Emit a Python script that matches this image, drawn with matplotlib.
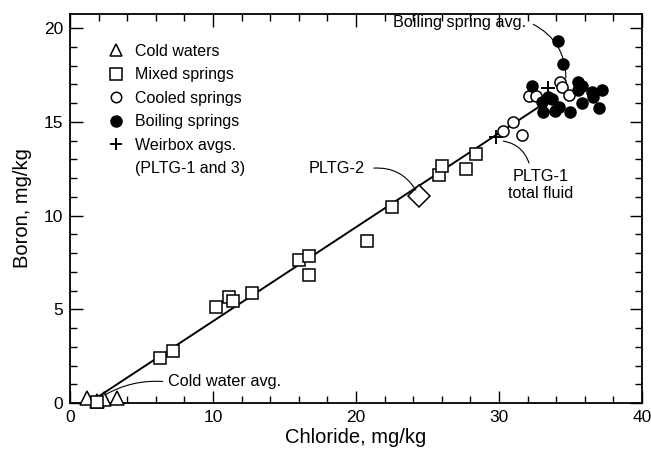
import matplotlib
matplotlib.use("Agg")
import matplotlib.pyplot as plt
from matplotlib.lines import Line2D
from matplotlib.ticker import MultipleLocator

plt.rcParams['font.family'] = ['Liberation Sans', 'DejaVu Sans']

# chloride (x) and boron (y), mg/kg
cold_cl = [1.2, 1.9, 2.4, 3.3]
cold_b = [0.25, 0.1, 0.2, 0.25]

mixed_cl = [1.9, 6.3, 7.2, 10.2, 11.1, 11.4, 12.7, 16.0, 16.7, 16.7,
            20.8, 22.5, 25.8, 26.0, 27.7, 28.4]
mixed_b = [0.05, 2.4, 2.8, 5.1, 5.67, 5.44, 5.87, 7.63, 7.84, 6.83,
           8.64, 10.45, 12.16, 12.64, 12.48, 13.28]

cooled_cl = [30.3, 31.0, 31.6, 32.1, 32.6, 34.3, 34.4, 34.9]
cooled_b = [14.5, 15.0, 14.3, 16.4, 16.4, 17.1, 16.85, 16.45]

boiling_cl = [34.1, 34.5, 32.3, 33.0, 33.1, 33.4, 33.7, 34.2, 33.9, 35.0,
              35.5, 35.8, 35.5, 35.8, 36.5, 36.6, 37.2, 37.0]
boiling_b = [19.3, 18.1, 16.9, 16.05, 15.5, 16.3, 16.2, 15.8, 15.6, 15.5,
             17.1, 16.9, 16.7, 16.0, 16.6, 16.3, 16.7, 15.75]

weirbox_cl = [29.8, 33.4]
weirbox_b = [14.2, 16.8]

pltg2_cl = [24.4]
pltg2_b = [11.05]

line_cl = [1.9, 33.6]
line_b = [0.3, 16.2]

fig = plt.figure(figsize=(6.51, 4.49), dpi=100)
ax = fig.add_axes([0.1075, 0.1024, 0.8786, 0.8664])

ax.plot(line_cl, line_b, color='black', lw=1.4, zorder=2)

mk = dict(linestyle='none', color='black', clip_on=False, zorder=3)
ax.plot(cold_cl, cold_b, marker='^', ms=10, mfc='white', mew=1.1, **mk)
ax.plot(mixed_cl, mixed_b, marker='s', ms=8.5, mfc='white', mew=1.1, **mk)
ax.plot(pltg2_cl, pltg2_b, marker='D', ms=11, mfc='white', mew=1.1, **mk)
ax.plot(cooled_cl, cooled_b, marker='o', ms=8, mfc='white', mew=1.1, **mk)
ax.plot(boiling_cl, boiling_b, marker='o', ms=8, mfc='black', mew=1.0, **mk)
ax.plot(weirbox_cl, weirbox_b, marker='+', ms=10, mew=1.4, **mk)

# annotations
fs_ann = 11.7
arc = dict(arrowstyle='-', color='black', lw=0.8, shrinkA=0, shrinkB=0)
ax.text(31.9, 20.3, 'Boiling spring avg.', ha='right', va='center', fontsize=fs_ann)
ax.annotate('', xy=(34.68, 17.33), xytext=(32.4, 20.2),
            arrowprops=dict(connectionstyle='arc3,rad=-0.3', **arc))

ax.text(32.9, 11.63, 'PLTG-1\ntotal fluid', ha='center', va='center',
        multialignment='center', fontsize=fs_ann, linespacing=1.15)
ax.annotate('', xy=(30.3, 13.97), xytext=(32.1, 12.8),
            arrowprops=dict(connectionstyle='arc3,rad=0.3', **arc))

ax.text(20.6, 12.5, 'PLTG-2', ha='right', va='center', fontsize=fs_ann)
ax.annotate('', xy=(24.18, 11.36), xytext=(21.25, 12.53),
            arrowprops=dict(connectionstyle='arc3,rad=-0.3', **arc))

ax.text(6.83, 1.17, 'Cold water avg.', ha='left', va='center', fontsize=fs_ann)
ax.annotate('', xy=(2.44, 0.43), xytext=(6.48, 1.15),
            arrowprops=dict(connectionstyle='arc3,rad=0.15', **arc))

# legend
handles = [
    Line2D([], [], marker='^', ms=9, mfc='white', mec='black', mew=1.1, ls='none'),
    Line2D([], [], marker='s', ms=8, mfc='white', mec='black', mew=1.1, ls='none'),
    Line2D([], [], marker='o', ms=7.5, mfc='white', mec='black', mew=1.1, ls='none'),
    Line2D([], [], marker='o', ms=8, mfc='black', mec='black', ls='none'),
    Line2D([], [], marker='+', ms=9, mec='black', mew=1.4, ls='none'),
    Line2D([], [], ls='none'),
]
labels = ['Cold waters', 'Mixed springs', 'Cooled springs', 'Boiling springs',
          'Weirbox avgs.', '(PLTG-1 and 3)']
ax.legend(handles, labels, loc='upper left', bbox_to_anchor=(0.064, 0.923),
          frameon=False, borderpad=0, borderaxespad=0, fontsize=11.5,
          handlelength=1.2, handletextpad=0.6, labelspacing=0.53)

ax.set_xlim(0, 40)
ax.set_ylim(0, 20.75)
ax.xaxis.set_major_locator(MultipleLocator(10))
ax.xaxis.set_minor_locator(MultipleLocator(2))
ax.yaxis.set_major_locator(MultipleLocator(5))
ax.yaxis.set_minor_locator(MultipleLocator(1))
ax.tick_params(which='both', direction='in', top=True, right=True, width=1.0)
ax.tick_params(which='major', length=9, labelsize=12.5, pad=5)
ax.tick_params(which='minor', length=5)
for s in ax.spines.values():
    s.set_linewidth(1.3)

ax.set_xlabel('Chloride, mg/kg', fontsize=14.5, labelpad=2)
ax.set_ylabel('Boron, mg/kg', fontsize=14.5, labelpad=8)

fig.savefig('out.png', dpi=100)
